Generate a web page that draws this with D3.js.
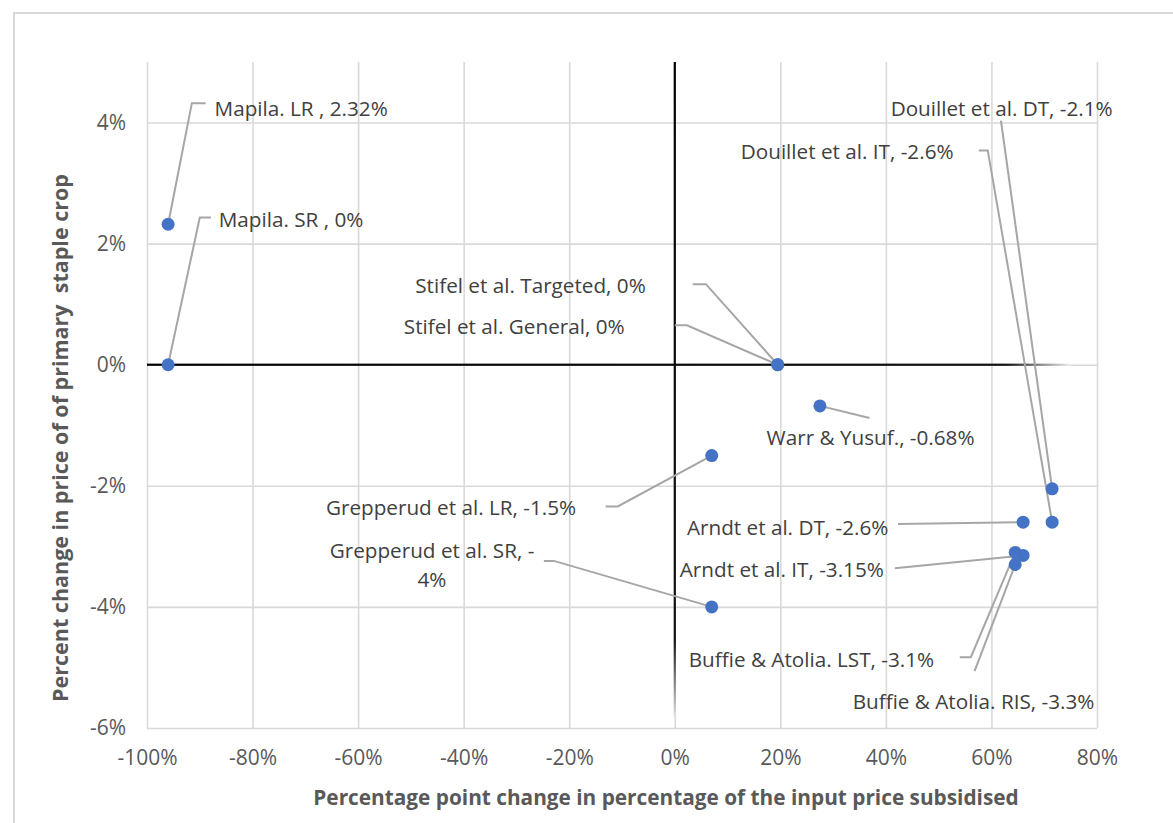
<!DOCTYPE html>
<html>
<head>
<meta charset="utf-8">
<script src="https://cdn.jsdelivr.net/npm/d3@7"></script>
<style>
  html, body { margin: 0; padding: 0; background: #fff; }
  svg { display: block; font-family: "Open Sans", Lato, sans-serif; }
</style>
</head>
<body>
<svg id="chart" width="1173" height="823"></svg>
<script>
// ---- data ----
const studies = ["Mapila. LR", "Mapila. SR", "Stifel et al. Targeted", "Stifel et al. General",
  "Warr & Yusuf.", "Douillet et al. DT", "Douillet et al. IT", "Grepperud et al. LR",
  "Grepperud et al. SR", "Arndt et al. DT", "Arndt et al. IT", "Buffie & Atolia. LST", "Buffie & Atolia. RIS"];
const subsidyChange = [-96, -96, 19.5, 19.5, 27.5, 71.5, 71.5, 7, 7, 66, 66, 64.5, 64.5];
const priceChange = [2.32, 0, 0, 0, -0.68, -2.05, -2.6, -1.5, -4, -2.6, -3.15, -3.1, -3.3];
const labelTexts = [["Mapila. LR , 2.32%"], ["Mapila. SR , 0%"], ["Stifel et al. Targeted, 0%"],
  ["Stifel et al. General, 0%"], ["Warr & Yusuf., -0.68%"], ["Douillet et al. DT, -2.1%"],
  ["Douillet et al. IT, -2.6%"], ["Grepperud et al. LR, -1.5%"], ["Grepperud et al. SR, -", "4%"],
  ["Arndt et al. DT, -2.6%"], ["Arndt et al. IT, -3.15%"], ["Buffie & Atolia. LST, -3.1%"],
  ["Buffie & Atolia. RIS, -3.3%"]];
const xTicks = [-100, -80, -60, -40, -20, 0, 20, 40, 60, 80];
const yTicks = [-6, -4, -2, 0, 2, 4];
const xTitle = "Percentage point change in percentage of the input price subsidised";
const yTitle = "Percent change in price of of primary  staple crop";

// ---- label layout (data units): text anchor position + leader elbow points ----
const labelLayout = [
  { anchor: "start", x: -87.2, y: 4.23, leader: [[-91.5, 4.32], [-88.9, 4.32]] },
  { anchor: "start", x: -86.4, y: 2.40, leader: [[-90.0, 2.43], [-87.9, 2.43]] },
  { anchor: "end",   x: -5.5,  y: 1.30, leader: [[5.9, 1.33], [3.4, 1.33]] },
  { anchor: "end",   x: -9.5,  y: 0.62, leader: [[2.3, 0.65], [0.0, 0.65]] },
  { anchor: "start", x: 17.4,  y: -1.21, leader: [[36.9, -0.88]] },
  { anchor: "start", x: 40.9,  y: 4.23, leader: [[61.8, 4.03]] },
  { anchor: "start", x: 12.5,  y: 3.51, leader: [[59.3, 3.54], [57.6, 3.54]] },
  { anchor: "start", x: -66.1, y: -2.37, leader: [[-10.8, -2.34], [-13.1, -2.34]] },
  { anchor: "middle", x: -46.0, y: -3.08, leader: [[-22.9, -3.24], [-24.8, -3.24]] },
  { anchor: "start", x: 2.3,   y: -2.70, leader: [[42.3, -2.63]] },
  { anchor: "start", x: 0.95,  y: -3.39, leader: [[41.7, -3.36]] },
  { anchor: "start", x: 2.65,  y: -4.88, leader: [[56.1, -4.83], [54.0, -4.83]] },
  { anchor: "start", x: 33.7,  y: -5.57, leader: [[56.8, -5.06]] }
];

const data = studies.map((s, i) => ({ name: s, x: subsidyChange[i], y: priceChange[i],
  text: labelTexts[i], layout: labelLayout[i] }));

// ---- chart ----
const svg = d3.select("#chart");
const pLeft = 147, pRight = 1097, pTop = 62, pBottom = 728;
const x = d3.scaleLinear().domain([-100, 80]).range([pLeft, pRight]);
const y = d3.scaleLinear().domain([-6, 5]).range([pBottom, pTop]);

// outer chart border
svg.append("rect").attr("x", 14).attr("y", 13).attr("width", 1300).attr("height", 1000)
  .attr("fill", "none").attr("stroke", "#d9d9d9").attr("stroke-width", 2);

const defs = svg.append("defs");
const gh = defs.append("linearGradient").attr("id", "gh").attr("gradientUnits", "userSpaceOnUse")
  .attr("x1", x(-100)).attr("x2", x(75)).attr("y1", 0).attr("y2", 0);
gh.append("stop").attr("offset", 0).attr("stop-color", "#000");
gh.append("stop").attr("offset", 0.93).attr("stop-color", "#111");
gh.append("stop").attr("offset", 1).attr("stop-color", "#f0f0f0");
const gv = defs.append("linearGradient").attr("id", "gv").attr("gradientUnits", "userSpaceOnUse")
  .attr("x1", 0).attr("x2", 0).attr("y1", y(5)).attr("y2", y(-5.85));
gv.append("stop").attr("offset", 0).attr("stop-color", "#000");
gv.append("stop").attr("offset", 0.88).attr("stop-color", "#111");
gv.append("stop").attr("offset", 1).attr("stop-color", "#e6e6e6");

// gridlines via axes
svg.append("g").attr("transform", `translate(0,${pBottom})`)
  .call(d3.axisBottom(x).tickValues(xTicks).tickSize(-(pBottom - pTop)).tickFormat(""))
  .call(g => g.select(".domain").remove())
  .call(g => g.selectAll(".tick line").attr("stroke", "#d9d9d9").attr("stroke-width", 1.6));
svg.append("g").attr("transform", `translate(${pLeft},0)`)
  .call(d3.axisLeft(y).tickValues(yTicks).tickSize(-(pRight - pLeft)).tickFormat(""))
  .call(g => g.select(".domain").remove())
  .call(g => g.selectAll(".tick line").attr("stroke", "#d9d9d9").attr("stroke-width", 1.6));

// tick labels
svg.append("g").attr("transform", `translate(0,${pBottom})`)
  .call(d3.axisBottom(x).tickValues(xTicks).tickSize(0).tickPadding(22).tickFormat(d => d + "%"))
  .call(g => g.select(".domain").remove())
  .call(g => g.selectAll("text").attr("fill", "#595959").attr("font-size", 21)
    .attr("font-family", "'Open Sans', sans-serif"));
svg.append("g").attr("transform", `translate(${pLeft},0)`)
  .call(d3.axisLeft(y).tickValues(yTicks).tickSize(0).tickPadding(21).tickFormat(d => d + "%"))
  .call(g => g.select(".domain").remove())
  .call(g => g.selectAll("text").attr("fill", "#595959").attr("font-size", 21)
    .attr("font-family", "'Open Sans', sans-serif"));

// zero lines
svg.append("rect").attr("x", x(0) - 1.1).attr("width", 2.2).attr("y", y(5)).attr("height", y(-5.85) - y(5))
  .attr("fill", "url(#gv)");
svg.append("rect").attr("y", y(0) - 1.1).attr("height", 2.2).attr("x", x(-100)).attr("width", x(75) - x(-100))
  .attr("fill", "url(#gh)");

// leader lines
const line = d3.line();
svg.append("g").selectAll("path").data(data).join("path")
  .attr("d", d => line([[x(d.x), y(d.y)], ...d.layout.leader.map(p => [x(p[0]), y(p[1])])]))
  .attr("fill", "none").attr("stroke", "#a6a6a6").attr("stroke-width", 2);

// points
svg.append("g").selectAll("circle").data(data).join("circle")
  .attr("cx", d => x(d.x)).attr("cy", d => y(d.y)).attr("r", 6.5)
  .attr("fill", "#4472c4");

// labels
const lbl = svg.append("g").selectAll("text").data(data).join("text")
  .attr("x", d => x(d.layout.x)).attr("y", d => y(d.layout.y))
  .attr("text-anchor", d => d.layout.anchor)
  .attr("fill", "#404040").attr("font-size", 20.7);
lbl.selectAll("tspan").data(d => d.text.map((t, i) => ({ t, i, d }))).join("tspan")
  .attr("x", o => x(o.d.layout.x)).attr("dy", o => o.i === 0 ? "0.35em" : "1.4em")
  .text(o => o.t);

// axis titles
svg.append("text").attr("x", 666).attr("y", 805).attr("text-anchor", "middle")
  .attr("font-weight", "bold").attr("font-size", 20.8).attr("fill", "#595959").text(xTitle);
svg.append("text").attr("transform", "translate(68,438) rotate(-90)").attr("text-anchor", "middle")
  .attr("font-weight", "bold").attr("font-size", 21.5).attr("fill", "#595959")
  .attr("xml:space", "preserve").style("white-space", "pre").text(yTitle);
</script>
</body>
</html>
